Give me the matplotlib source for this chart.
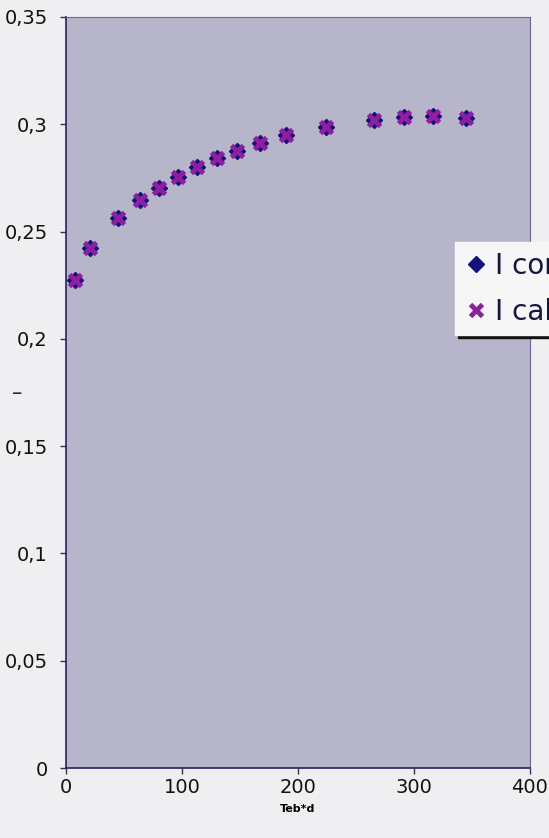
import numpy as np
import matplotlib.pyplot as plt
from matplotlib.ticker import FuncFormatter, MultipleLocator

# Teb*d values and the two series
teb_d = [8.0, 20.9, 44.5, 64.1, 79.8, 96.4, 112.9, 130.2, 147.7, 167.6,
         189.9, 224.3, 265.7, 291.3, 316.0, 344.4]
i_cor = [0.2273, 0.2424, 0.2564, 0.2646, 0.2702, 0.2753, 0.2800, 0.2842,
         0.2874, 0.2913, 0.2949, 0.2989, 0.3022, 0.3033, 0.3037, 0.3030]
i_calc = [0.2273, 0.2424, 0.2564, 0.2646, 0.2702, 0.2753, 0.2800, 0.2842,
          0.2874, 0.2913, 0.2949, 0.2989, 0.3022, 0.3033, 0.3037, 0.3030]
labels = ['I corr', 'I calc']

plt.rcParams['font.family'] = ['DejaVu Sans']

fig = plt.figure(figsize=(5.49, 8.38), dpi=100, facecolor='#efeff1')
ax = fig.add_axes([66 / 549, 1 - 768 / 838, 464 / 549, 751 / 838])
ax.set_facecolor('#b7b5c9')

ax.plot(teb_d, i_cor, linestyle='none', marker='D', markersize=8.5,
        color='#12127a', label=labels[0], zorder=3)
ax.plot(teb_d, i_calc, linestyle='none', marker='x', markersize=9,
        markeredgewidth=3.5, color='#8e1f9e', label=labels[1], zorder=4)

ax.set_xlim(0, 400)
ax.set_ylim(0, 0.35)
ax.xaxis.set_major_locator(MultipleLocator(100))
ax.yaxis.set_major_locator(MultipleLocator(0.05))
comma = FuncFormatter(lambda v, p: ('%g' % round(v, 4)).replace('.', ','))
ax.xaxis.set_major_formatter(comma)
ax.yaxis.set_major_formatter(comma)
ax.tick_params(direction='out', length=4, width=1, color='#333355',
               labelsize=14, labelcolor='#111111')
ax.tick_params(axis='y', pad=9)
ax.tick_params(axis='x', pad=3)

for side in ['top', 'right']:
    ax.spines[side].set_color('#6a6890')
    ax.spines[side].set_linewidth(0.8)
for side in ['left', 'bottom']:
    ax.spines[side].set_color('#2a2060')
    ax.spines[side].set_linewidth(1.2)

ax.set_xlabel('Teb*d', fontsize=8, fontweight='bold', labelpad=5)
fig.text(0.031, 1 - 393 / 838, '–', fontsize=15, color='#2a2060',
         ha='center', va='center')

# legend runs past the right edge of the figure, as in the source picture
leg = fig.legend(loc='upper left', bbox_to_anchor=(455 / 549, 1 - 242 / 838),
                 fontsize=20, frameon=True, fancybox=False,
                 shadow={'color': '#111111', 'alpha': 1},
                 handletextpad=0.3, handlelength=0.8, borderpad=0.35,
                 labelspacing=0.65, borderaxespad=0)
leg.get_frame().set_facecolor('#f6f6f6')
leg.get_frame().set_edgecolor('#f6f6f6')
for t in leg.get_texts():
    t.set_color('#151540')

fig.savefig('out.png', dpi=100, facecolor=fig.get_facecolor())
